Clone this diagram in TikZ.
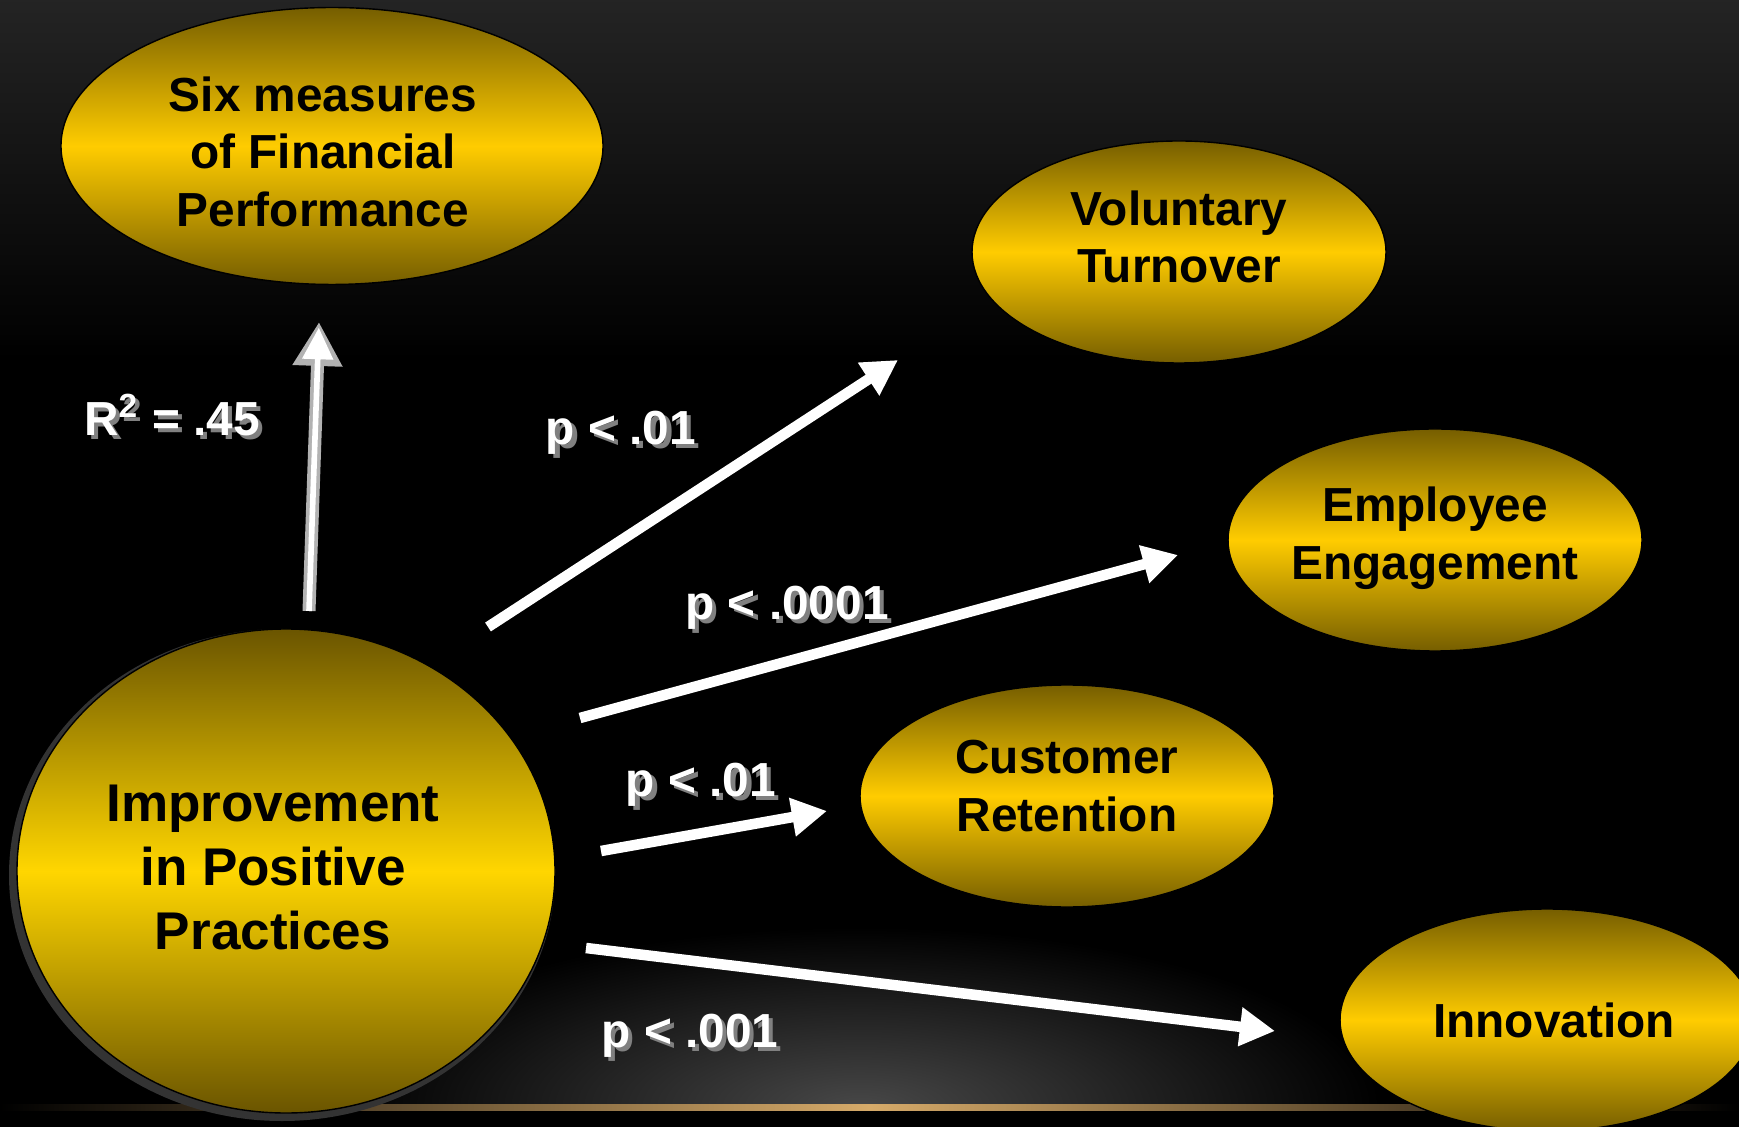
\documentclass[tikz,border=0pt]{standalone}
\usepackage{fontspec}
\setmainfont{Liberation Sans}
\usepackage{tikz}
\usetikzlibrary{shapes.geometric,arrows.meta,positioning}
\definecolor{goldHi}{RGB}{255,204,0}
\definecolor{goldDk}{RGB}{118,94,0}
\definecolor{practHi}{RGB}{255,214,0}
\definecolor{floorLine}{RGB}{214,170,105}
% white label with a soft grey drop shadow
\newcommand{\embossed}[1]{\rlap{\kern1.2pt\raisebox{-1.2pt}{\textcolor{black!50}{#1}}}#1}
% extra depth under the last line lifts a block of text
\newcommand{\lift}[1]{\rule[-#1]{0pt}{0pt}}

\begin{document}
\begin{tikzpicture}[
  oval/.style={ellipse,draw=black,thin,top color=goldDk,bottom color=goldDk,
               middle color=goldHi,inner sep=0pt,align=center,
               font=\fontsize{13.6}{16.4}\selectfont\bfseries,
               minimum width=4.14cm,minimum height=2.22cm},
  pval/.style={text=white,font=\fontsize{13.6}{16}\selectfont\bfseries},
  flow/.style={draw=white,line width=3pt,-{Triangle[length=10pt,width=10.5pt]}},
  liftarrow/.style={draw=gray!60,line width=3.7pt,-{Triangle[length=12.5pt,width=13.4pt]}}
]
  \useasboundingbox (0,0) rectangle (17.39,-11.27);
  % backdrop
  \fill[black] (0,0) rectangle (17.39,-11.27);
  \shade[top color=black!86,bottom color=black] (0,0) rectangle (17.39,-3.6);
  \begin{scope}
    \clip (0,-8) rectangle (17.39,-11.07);
    \shade[inner color=black!72,outer color=black] (8.6,-11.07) ellipse (5.2 and 1.8);
  \end{scope}
  \shade[left color=black,right color=black,middle color=floorLine]
    (0,-11.045) rectangle (17.39,-11.10);
  % halo under the main circle
  \fill[gray!40!black] (2.82,-8.75) ellipse (2.73 and 2.46);
  % outcome nodes
  \node[oval,minimum width=5.42cm,minimum height=2.74cm] (fin) at (3.32,-1.46)
    {\begin{tabular}{@{}c@{}}\rule{0pt}{18pt}Six measures\\of Financial\\Performance\end{tabular}%
     \hspace*{0.18cm}};
  \node[oval] (turn) at (11.79,-2.52) {Voluntary\\Turnover\lift{8.8pt}};
  \node[oval] (eng)  at (14.35,-5.40) {Employee\\Engagement\lift{3.8pt}};
  \node[oval] (ret)  at (10.67,-7.96) {Customer\\Retention\lift{5.7pt}};
  \node[oval] (inn)  at (15.47,-10.20) {Innovation\hspace*{-0.14cm}};
  \node[oval,top color=goldDk!90!black,bottom color=goldDk!90!black,middle color=practHi,
        minimum width=5.38cm,minimum height=4.84cm,
        font=\fontsize{15.1}{18.1}\selectfont\bfseries] (prac) at (2.86,-8.71)
    {\begin{tabular}{@{}c@{}}\rule{0pt}{13.7pt}Improvement\\in Positive\\Practices\end{tabular}%
     \hspace*{0.26cm}};
  % arrow ends
  \coordinate (finS)  at (3.09,-6.11);  \coordinate (finE)  at (3.19,-3.22);
  \coordinate (turnS) at (4.88,-6.27);  \coordinate (turnE) at (8.98,-3.60);
  \coordinate (engS)  at (5.80,-7.18);  \coordinate (engE)  at (11.78,-5.55);
  \coordinate (retS)  at (6.01,-8.51);  \coordinate (retE)  at (8.27,-8.11);
  \coordinate (innS)  at (5.86,-9.48);  \coordinate (innE)  at (12.75,-10.31);
  % arrows
  \draw[liftarrow] (finS) -- (finE);
  \draw[white,line width=1.6pt,-{Triangle[length=9pt,width=8.5pt]},shorten >=1.6pt]
    (finS) -- (finE);
  \draw[flow] (turnS) -- (turnE);
  \draw[flow] (engS) -- (engE);
  \draw[flow] (retS) -- (retE);
  \draw[flow] (innS) -- (innE);
  % labels
  \node[pval] (r2)  at (1.72,-4.17)  {\embossed{R\textsuperscript{2} = .45}};
  \node[pval] (pT)  at (6.21,-4.35)  {\embossed{p < .01}};
  \node[pval] (pE)  at (7.87,-6.10)  {\embossed{p < .0001}};
  \node[pval] (pR)  at (7.01,-7.87)  {\embossed{p < .01}};
  \node[pval] (pI)  at (6.90,-10.38) {\embossed{p < .001}};
\end{tikzpicture}
\end{document}
